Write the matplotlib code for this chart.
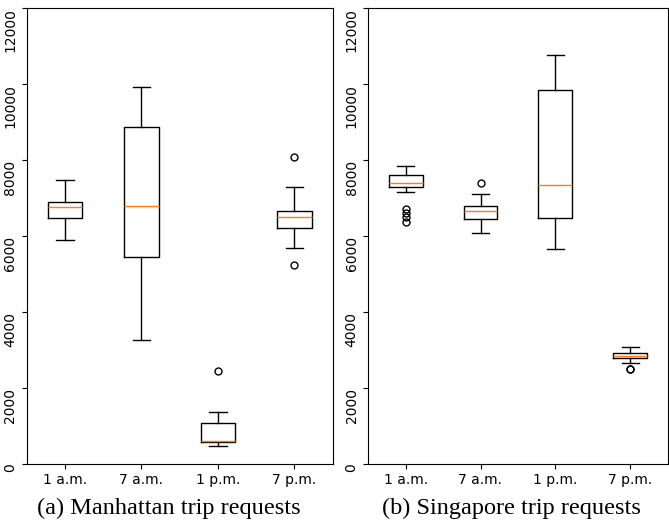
import matplotlib
matplotlib.use("Agg")
import matplotlib.pyplot as plt

categories = ["1 a.m.", "7 a.m.", "1 p.m.", "7 p.m."]

# Manhattan trip requests (box statistics)
man_whislo = [5890, 3257, 474, 5671]
man_q1 = [6478, 5450, 563, 6206]
man_med = [6751, 6777, 598, 6488]
man_q3 = [6899, 8874, 1080, 6654]
man_whishi = [7463, 9911, 1369, 7294]
man_fliers = [[], [], [2449], [8068, 5232]]

# Singapore trip requests
sin_whislo = [7146, 6066, 5645, 2643]
sin_q1 = [7277, 6435, 6461, 2775]
sin_med = [7399, 6645, 7330, 2844]
sin_q3 = [7610, 6793, 9848, 2923]
sin_whishi = [7839, 7109, 10761, 3065]
sin_fliers = [[6706, 6593, 6503, 6372], [7383], [], [2501, 2490]]

captions = ["(a) Manhattan trip requests", "(b) Singapore trip requests"]
yticks = [0, 2000, 4000, 6000, 8000, 10000, 12000]


def make_stats(lo, q1, med, q3, hi, fl):
    return [dict(whislo=a, q1=b, med=c, q3=d, whishi=e, fliers=f, label=lab)
            for a, b, c, d, e, f, lab in zip(lo, q1, med, q3, hi, fl, categories)]


fig = plt.figure(figsize=(6.69, 5.24), dpi=100)
ax1 = fig.add_axes([26.7 / 669, 1 - 463.7 / 524, (332.7 - 26.7) / 669, (463.7 - 8) / 524])
ax2 = fig.add_axes([368.3 / 669, 1 - 463.7 / 524, (667.5 - 368.3) / 669, (463.7 - 8) / 524])

datasets = [
    make_stats(man_whislo, man_q1, man_med, man_q3, man_whishi, man_fliers),
    make_stats(sin_whislo, sin_q1, sin_med, sin_q3, sin_whishi, sin_fliers),
]

for ax, stats in zip([ax1, ax2], datasets):
    ax.bxp(stats, showfliers=True,
           flierprops=dict(marker="o", markerfacecolor="none", markeredgecolor="black", markersize=5),
           medianprops=dict(color="#ff7f0e"))
    ax.set_ylim(0, 12000)
    ax.set_yticks(yticks)
    ax.set_yticklabels([str(t) for t in yticks], rotation=90, va="top", fontsize=10)
    ax.tick_params(axis="x", labelsize=10)
    for lab in ax.get_yticklabels():
        lab.set_y(lab.get_position()[1])

fig.text(169 / 669, 1 - 508 / 524, captions[0], ha="center", va="center",
         family="Liberation Serif", fontsize=17.5)
fig.text(511.7 / 669, 1 - 508 / 524, captions[1], ha="center", va="center",
         family="Liberation Serif", fontsize=17.5)

fig.savefig("out.png", dpi=100)
